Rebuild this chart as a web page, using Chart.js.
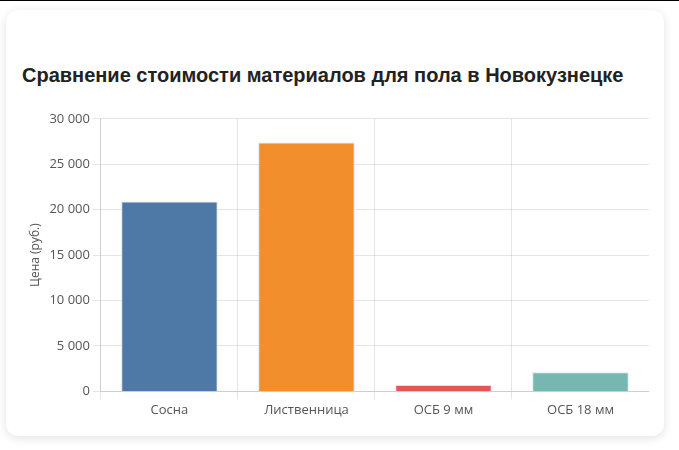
<!DOCTYPE html>
<html>
<head>
<meta charset="utf-8">
<script src="https://cdn.jsdelivr.net/npm/chart.js@4"></script>
<style>
  body { margin: 0; background: #fff; border-top: 1px solid #000; font-family: "Open Sans", sans-serif; }
  .card { position: absolute; left: 6px; top: 10px; width: 658px; height: 426px; background: #fff;
          border-radius: 12px; box-shadow: 0 2px 10px rgba(0,0,0,0.12); }
  h2 { position: absolute; left: 16px; top: 54px; margin: 0; font: bold 20px "Liberation Sans", Arial, sans-serif; color: #222; }
  .wrap { position: absolute; left: 18px; top: 98px; width: 625px; height: 313px; }
</style>
</head>
<body>
<div class="card">
  <h2>Сравнение стоимости материалов для пола в Новокузнецке</h2>
  <div class="wrap"><canvas id="myChart"></canvas></div>
</div>
<script>
const categories = ['Сосна', 'Лиственница', 'ОСБ 9 мм', 'ОСБ 18 мм'];
const prices = [20900, 27400, 700, 2100];
const colors = ['#4e79a7', '#f28e2b', '#e15759', '#76b7b2'];

const ctx = document.getElementById('myChart').getContext('2d');
new Chart(ctx, {
    type: 'bar',
    data: {
        labels: categories,
        datasets: [{
            label: 'Цена',
            data: prices,
            backgroundColor: colors,
            borderColor: '#e0e0e0',
            borderWidth: 1,
            categoryPercentage: 0.8,
            barPercentage: 0.88
        }]
    },
    options: {
        responsive: true,
        maintainAspectRatio: false,
        animation: false,
        plugins: { legend: { display: false } },
        scales: {
            x: {
                ticks: { color: '#555', font: { family: 'Open Sans', size: 13 } }
            },
            y: {
                min: 0, max: 30000,
                ticks: {
                    stepSize: 5000, color: '#555', font: { family: 'Open Sans', size: 13 },
                    callback: v => v.toLocaleString('ru-RU')
                },
                title: { display: true, text: 'Цена (руб.)', color: '#555', font: { family: 'Open Sans', size: 12 } }
            }
        }
    }
});
</script>
</body>
</html>
